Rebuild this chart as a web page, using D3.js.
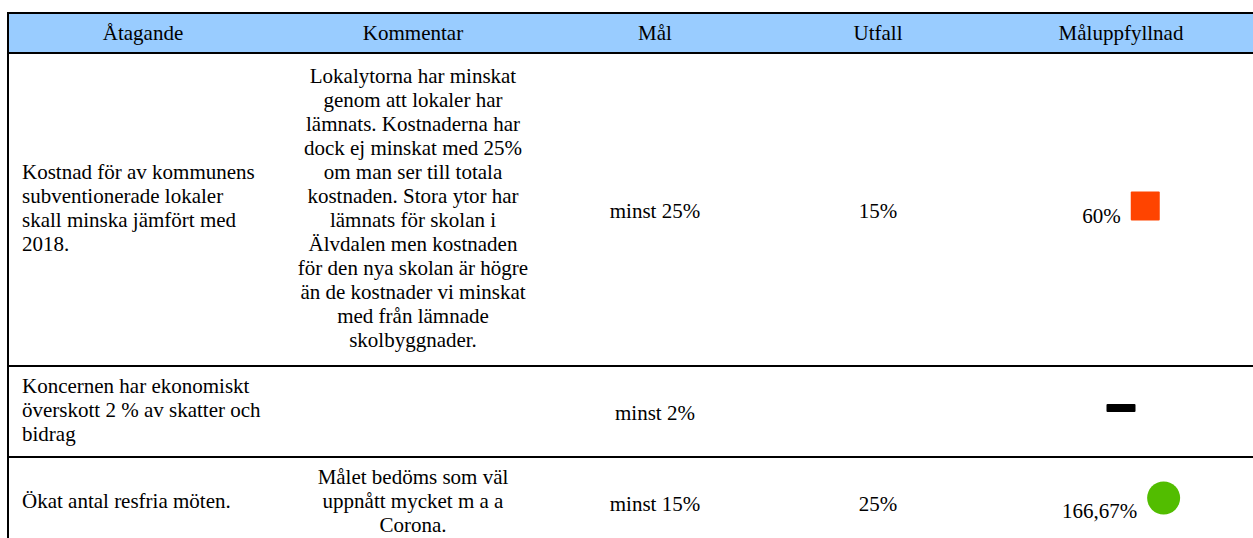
<!DOCTYPE html>
<html>
<head>
<meta charset="utf-8">
<script src="https://cdn.jsdelivr.net/npm/d3@7"></script>
<style>
  body { margin: 0; background: #fff; }
  svg { display: block; }
  text { font-family: "Liberation Serif", "Times New Roman", serif; font-size: 21px; fill: #000; }
</style>
</head>
<body>
<div id="chart"></div>
<script>
// ---- data ----
const headers = ["Åtagande", "Kommentar", "Mål", "Utfall", "Måluppfyllnad"];

const atagande = [
    ["Kostnad för av kommunens", "subventionerade lokaler", "skall minska jämfört med", "2018."],
    ["Koncernen har ekonomiskt", "överskott 2 % av skatter och", "bidrag"],
    ["Ökat antal resfria möten."]
];

const kommentar = [
    ["Lokalytorna har minskat", "genom att lokaler har", "lämnats. Kostnaderna har",
     "dock ej minskat med 25%", "om man ser till totala", "kostnaden. Stora ytor har",
     "lämnats för skolan i", "Älvdalen men kostnaden", "för den nya skolan är högre",
     "än de kostnader vi minskat", "med från lämnade", "skolbyggnader."],
    [],
    ["Målet bedöms som väl", "uppnått mycket m a a", "Corona."]
];

const mal = ["minst 25%", "minst 2%", "minst 15%"];
const utfall = ["15%", "", "25%"];
const uppfyllnad = ["60%", "", "166,67%"];
const status = ["ejUppnatt", "ejBedomt", "uppnatt"];

// ---- layout ----
const width = 1253, height = 538;
const lineH = 24;
const rowEdges = [13, 53, 366, 457, 548];   // header + 3 rows

const svg = d3.select("#chart").append("svg")
    .attr("width", width)
    .attr("height", height);

const colX = d3.scaleOrdinal()
    .domain(headers)
    .range([22, 413, 655, 878, 1121]);

const rowY = d3.scaleOrdinal()
    .domain(["header", 0, 1, 2])
    .range(rowEdges.slice(0, -1).map((d, i) => (d + rowEdges[i + 1]) / 2));

const statusColor = d3.scaleOrdinal()
    .domain(["ejUppnatt", "ejBedomt", "uppnatt"])
    .range(["#ff4400", "#000000", "#52bd00"]);

const statusSize = d3.scaleOrdinal()
    .domain(["ejUppnatt", "ejBedomt", "uppnatt"])
    .range([29, 29, 33]);

// header background
svg.append("rect")
    .attr("x", 8).attr("y", rowEdges[0])
    .attr("width", width - 8).attr("height", rowEdges[1] - rowEdges[0])
    .attr("fill", "#99ccff");

svg.selectAll("text.head")
    .data(headers)
    .enter().append("text")
    .attr("class", "head")
    .attr("x", (d, i) => i === 0 ? 143 : colX(d))
    .attr("y", rowY("header") + 6.5)
    .attr("text-anchor", "middle")
    .text(d => d);

// multi line cells
function multiLine(lines, r, col, anchor) {
    const n = lines.length;
    const cy = rowY(r);
    svg.append("g").selectAll("text")
        .data(lines)
        .enter().append("text")
        .attr("x", colX(col))
        .attr("y", (d, i) => cy - (n - 1) / 2 * lineH + i * lineH + 5.5)
        .attr("text-anchor", anchor)
        .text(d => d);
}

atagande.forEach((lines, r) => multiLine(lines, r, "Åtagande", "start"));
kommentar.forEach((lines, r) => multiLine(lines, r, "Kommentar", "middle"));

// Mål / Utfall
svg.selectAll("text.mal")
    .data(mal)
    .enter().append("text")
    .attr("class", "mal")
    .attr("x", colX("Mål"))
    .attr("y", (d, i) => rowY(i) + 8.5)
    .attr("text-anchor", "middle")
    .text(d => d);

svg.selectAll("text.utfall")
    .data(utfall)
    .enter().append("text")
    .attr("class", "utfall")
    .attr("x", colX("Utfall"))
    .attr("y", (d, i) => rowY(i) + 8.5)
    .attr("text-anchor", "middle")
    .text(d => d);

// Måluppfyllnad: value + status symbol
uppfyllnad.forEach((val, i) => {
    const st = status[i];
    const s = statusSize(st);
    const top = rowY(i) - (s + 7) / 2;
    const g = svg.append("g");
    const t = g.append("text")
        .attr("y", top + s + 2)
        .text(val);
    const tw = val ? t.node().getComputedTextLength() : 0;
    const gap = val ? 10 : 0;
    const x0 = colX("Måluppfyllnad") - (tw + gap + s) / 2;
    t.attr("x", x0);
    const sx = x0 + tw + gap;
    if (st === "uppnatt") {
        g.append("circle")
            .attr("cx", sx + s / 2).attr("cy", top + s / 2 - 1).attr("r", s / 2)
            .attr("fill", statusColor(st));
    } else if (st === "ejBedomt") {
        g.append("rect")
            .attr("x", sx).attr("y", top + s / 2 - 4)
            .attr("width", s).attr("height", 8).attr("rx", 1)
            .attr("fill", statusColor(st));
    } else {
        g.append("rect")
            .attr("x", sx).attr("y", top)
            .attr("width", s).attr("height", s).attr("rx", 1)
            .attr("fill", statusColor(st));
    }
});

// borders
svg.selectAll("line.hline")
    .data(rowEdges.slice(0, -1))
    .enter().append("line")
    .attr("class", "hline")
    .attr("x1", 7).attr("x2", width)
    .attr("y1", d => d).attr("y2", d => d)
    .attr("stroke", "#000").attr("stroke-width", 2);

svg.append("line")
    .attr("x1", 8).attr("x2", 8)
    .attr("y1", rowEdges[0] - 1).attr("y2", height)
    .attr("stroke", "#000").attr("stroke-width", 2);
</script>
</body>
</html>
